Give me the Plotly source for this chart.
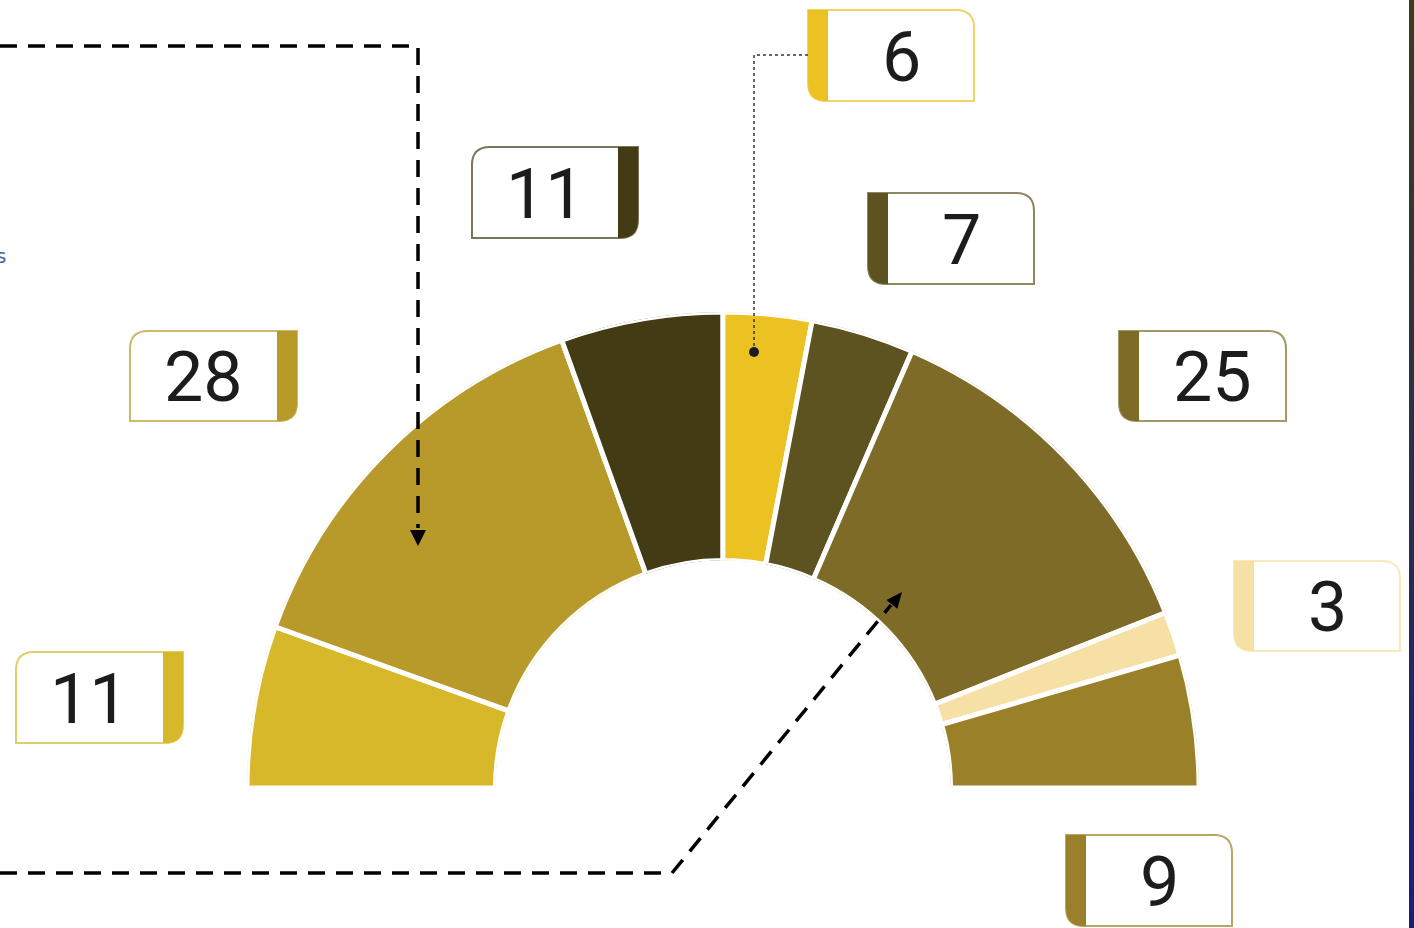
import plotly.graph_objects as go

# ---- data ----
values = [11, 28, 11, 6, 7, 25, 3, 9]
labels = ["11", "28", "11", "6", "7", "25", "3", "9"]
colors = ["#D6B82A", "#B89A2B", "#433B14", "#EBC221", "#5C5320", "#7D6B27", "#F7E0A6", "#9A8129"]

# ---- label box layout (pixel space) ----
boxes = [
    (16, 652, 183, 743, "R"),
    (130, 331, 297, 421, "R"),
    (472, 147, 638, 238, "R"),
    (808, 10, 974, 101, "L"),
    (868, 193, 1034, 284, "L"),
    (1119, 331, 1286, 421, "L"),
    (1234, 561, 1400, 651, "L"),
    (1066, 835, 1232, 926, "L"),
]

W, H = 1414, 928
total = sum(values)
deg = 180.0 / total

thetas, widths = [], []
cum = 0
for v in values:
    thetas.append(180 - (cum + v / 2) * deg)
    widths.append(v * deg)
    cum += v

fig = go.Figure()

# half donut
cx, cy, R = 723, 788, 476
fig.add_trace(go.Barpolar(
    r=[1] * len(values), theta=thetas, width=widths,
    marker=dict(color=colors, line=dict(color="white", width=5)),
    hoverinfo="skip", showlegend=False,
))

# right edge gradient bar
fig.add_trace(go.Scatter(
    x=[1409, 1414, 1414, 1409, 1409], y=[0, 0, H, H, 0],
    fill="toself", mode="lines", line=dict(width=0),
    fillgradient=dict(type="vertical",
                      colorscale=[[0, "#1b1e74"], [0.5, "#2c2e4c"], [1, "#3d3b1e"]]),
    hoverinfo="skip", showlegend=False,
))


def hexmix(c, t):
    c = c.lstrip("#")
    r, g, b = int(c[0:2], 16), int(c[2:4], 16), int(c[4:6], 16)
    r = round(r + (255 - r) * t); g = round(g + (255 - g) * t); b = round(b + (255 - b) * t)
    return "#%02x%02x%02x" % (r, g, b)


shapes = []
annotations = []
rr, tw = 18, 20
for (x0, y0, x1, y1, side), lab, col in zip(boxes, labels, colors):
    if side == "R":
        outline = (f"M {x0},{y0+rr} Q {x0},{y0} {x0+rr},{y0} L {x1},{y0} L {x1},{y1-rr} "
                   f"Q {x1},{y1} {x1-rr},{y1} L {x0},{y1} Z")
        tab = (f"M {x1-tw},{y0} L {x1},{y0} L {x1},{y1-rr} Q {x1},{y1} {x1-rr},{y1} "
               f"L {x1-tw},{y1} Z")
        tx = (x0 + x1 - tw) / 2
    else:
        outline = (f"M {x0},{y0} L {x1-rr},{y0} Q {x1},{y0} {x1},{y0+rr} L {x1},{y1} "
                   f"L {x0+rr},{y1} Q {x0},{y1} {x0},{y1-rr} Z")
        tab = (f"M {x0},{y0} L {x0+tw},{y0} L {x0+tw},{y1} L {x0+rr},{y1} "
               f"Q {x0},{y1} {x0},{y1-rr} Z")
        tx = (x0 + tw + x1) / 2
    shapes.append(dict(type="path", path=outline, xref="x", yref="y",
                       fillcolor="white", line=dict(color=hexmix(col, 0.3), width=2)))
    shapes.append(dict(type="path", path=tab, xref="x", yref="y",
                       fillcolor=col, line=dict(width=0)))
    annotations.append(dict(x=tx, y=(y0 + y1) / 2 + 1, xref="x", yref="y", text=lab,
                            showarrow=False, xanchor="center", yanchor="middle",
                            font=dict(family="Roboto, sans-serif",
                                      size=70, color="#1c1c1c")))

# connector lines
shapes.append(dict(type="path", path="M 0,46 L 418,46 L 418,528", xref="x", yref="y",
                   line=dict(color="black", width=3.5, dash="17px,11px")))
shapes.append(dict(type="path", path="M 410,530 L 426,530 L 418,546 Z", xref="x", yref="y",
                   fillcolor="black", line=dict(width=0)))
shapes.append(dict(type="path", path="M 0,873 L 672,873 L 891,605", xref="x", yref="y",
                   line=dict(color="black", width=3.5, dash="17px,11px")))
shapes.append(dict(type="path", path="M 902,592 L 897.3,608.8 L 886.5,600.0 Z", xref="x", yref="y",
                   fillcolor="black", line=dict(width=0)))
shapes.append(dict(type="path", path="M 808,55 L 754,55 L 754,352", xref="x", yref="y",
                   line=dict(color="#333333", width=1.5, dash="dot")))
shapes.append(dict(type="circle", x0=749, x1=759, y0=347, y1=357, xref="x", yref="y",
                   fillcolor="#1c1c24", line=dict(width=0)))

annotations.append(dict(x=1, y=256, xref="x", yref="y", text="s", showarrow=False,
                        xanchor="center", yanchor="middle",
                        font=dict(family="DejaVu Sans", size=20, color="#4a6a9a")))

fig.update_layout(
    width=W, height=H,
    margin=dict(l=0, r=0, t=0, b=0),
    paper_bgcolor="white", plot_bgcolor="rgba(0,0,0,0)",
    xaxis=dict(range=[0, W], visible=False, fixedrange=True, domain=[0, 1]),
    yaxis=dict(range=[H, 0], visible=False, fixedrange=True, domain=[0, 1]),
    polar=dict(
        domain=dict(x=[(cx - R) / W, (cx + R) / W], y=[(H - cy) / H, (H - cy + R) / H]),
        sector=[0, 180], hole=0.478, bgcolor="rgba(0,0,0,0)",
        radialaxis=dict(visible=False, range=[0, 1]),
        angularaxis=dict(visible=False, direction="counterclockwise", rotation=0),
    ),
    shapes=shapes, annotations=annotations, showlegend=False,
)

fig.write_html("out.html", config={"displayModeBar": False},
               post_script="document.body.style.margin='0';document.body.style.overflow='hidden';")
